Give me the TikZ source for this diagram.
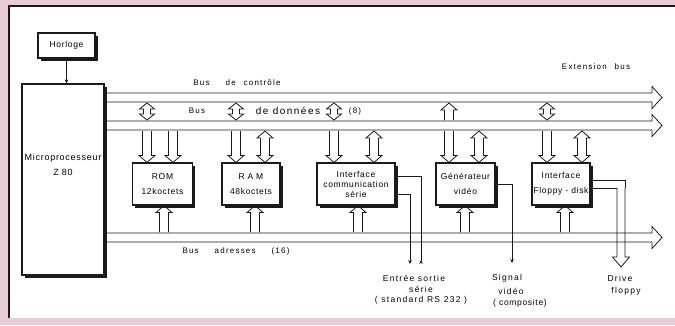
\documentclass[tikz,border=0pt]{standalone}
\usepackage{fontspec}
\setmainfont{Liberation Sans}[LetterSpace=8]
\newfontfamily\widefont{Liberation Sans}[LetterSpace=15]
\usetikzlibrary{arrows.meta,positioning,calc,shadows}
\definecolor{paper}{HTML}{E8CDD6}
\definecolor{ink}{HTML}{1A1A1A}
\tikzset{
  unit/.style={draw=ink, line width=1.1pt, fill=white, align=center, inner sep=1pt,
    drop shadow={shadow xshift=2.5pt, shadow yshift=-2.5pt, fill=ink, opacity=1}},
  block/.style={unit, minimum height=42pt, font=\fontsize{8.5}{10}\selectfont},
  sig/.style={draw=ink, line width=0.8pt},
  lbl/.style={font=\widefont\fontsize{8}{9}\selectfont, inner sep=1pt},
  outlbl/.style={font=\widefont\fontsize{8.5}{9}\selectfont, inner sep=1pt},
  % hollow arrow: half shaft width, half head width, head length
  hollow/.style n args={3}{sig, to path={
    ($(\tikztostart)!#1!90:(\tikztotarget)$)
    -- ($(\tikztotarget)!#3!(\tikztostart)!#1!-90:(\tikztostart)$)
    -- ($(\tikztotarget)!#3!(\tikztostart)!#2!-90:(\tikztostart)$)
    -- (\tikztotarget)
    -- ($(\tikztotarget)!#3!(\tikztostart)!#2!90:(\tikztostart)$)
    -- ($(\tikztotarget)!#3!(\tikztostart)!#1!90:(\tikztostart)$)
    -- ($(\tikztostart)!#1!-90:(\tikztotarget)$)}},
  % hollow arrow with a head at both ends
  hollowtwo/.style n args={3}{sig, to path={
    (\tikztostart)
    -- ($(\tikztostart)!#3!(\tikztotarget)!#2!90:(\tikztotarget)$)
    -- ($(\tikztostart)!#3!(\tikztotarget)!#1!90:(\tikztotarget)$)
    -- ($(\tikztotarget)!#3!(\tikztostart)!#1!-90:(\tikztostart)$)
    -- ($(\tikztotarget)!#3!(\tikztostart)!#2!-90:(\tikztostart)$)
    -- (\tikztotarget)
    -- ($(\tikztotarget)!#3!(\tikztostart)!#2!90:(\tikztostart)$)
    -- ($(\tikztotarget)!#3!(\tikztostart)!#1!90:(\tikztostart)$)
    -- ($(\tikztostart)!#3!(\tikztotarget)!#1!-90:(\tikztotarget)$)
    -- ($(\tikztostart)!#3!(\tikztotarget)!#2!-90:(\tikztotarget)$)
    -- cycle}},
  bus/.style={hollow={4.5pt}{11pt}{10pt}},
  feed/.style={hollow={4.5pt}{8pt}{7pt}},
  swap/.style={hollowtwo={4.5pt}{8pt}{7pt}},
  gap/.style={hollowtwo={3.5pt}{7.5pt}{6pt}}
}
\begin{document}
\begin{tikzpicture}[x=1pt, y=-1pt]
  \useasboundingbox (0,0) rectangle (675,325);
  \fill[paper] (0,0) rectangle (675,325);
  \fill[white] (9,6) rectangle (675,318);
  \draw[ink, line width=2.5pt] (9,318) -- (9,6) -- (675,6);

  \node[unit, minimum width=57pt, minimum height=25pt, font=\fontsize{8.5}{10}\selectfont] (horloge) at (66.5,45.5) {Horloge};
  \node[unit, minimum width=82pt, minimum height=191pt] (cpu) at (63,179.5) {};
  \node[font=\fontsize{9}{15}\selectfont, align=center] (cpulbl) at (63,164.5) {Microprocesseur\\Z 80};

  \node[block, minimum width=60pt] (rom) at (162.5,184) {ROM\\[5pt]12koctets};
  \node[block, minimum width=58pt] (ram) at (251,184) {R\,\,A\,\,M\\[5pt]48koctets};
  \node[block, minimum width=78pt] (comm) at (356,184) {Interface\\communication\\série};
  \node[block, minimum width=59pt] (video) at (465.5,184) {Générateur\\[5pt]vidéo};
  \node[block, minimum width=58pt] (floppy) at (561,184) {Interface\\[5pt]Floppy - disk};

  \draw[sig, -{Stealth[length=4pt,width=3.5pt]}] (horloge.south) -- (horloge.south |- cpu.north);

  % buses
  \coordinate (busW) at ($(cpu.east)+(2.5,0)$);
  \coordinate (ctrlE) at (662,97.5);
  \coordinate (dataE) at (662,125.5);
  \coordinate (addrE) at (662,237.5);
  \draw[bus] (busW |- ctrlE) to (ctrlE);
  \draw[bus] (busW |- dataE) to (dataE);
  \draw[bus] (busW |- addrE) to (addrE);
  \coordinate (ctrlS) at (0,103);
  \coordinate (dataN) at (0,120);
  \coordinate (dataS) at (0,131);
  \coordinate (addrN) at (0,232);

  \node[lbl] (ctrllbl) at (237,83) {Bus\qquad de\quad contrôle};
  \node[lbl] (datalbl) at (197,111) {Bus};
  \node[lbl, font=\widefont\fontsize{10}{11}\selectfont] (datalblb) at (288,111) {de données};
  \node[lbl] (datalblc) at (355,111) {(8)};
  \node[lbl] (extlbl) at (596,67) {Extension\quad bus};
  \node[lbl] (addrlbl) at (236,251) {Bus\qquad adresses\qquad (16)};

  % module links
  \foreach \m/\xl/\xb in {rom/147/164, ram/236/255, comm/334/358, video/449/465, floppy/547/565} {
    \coordinate (l) at (\xl,0);
    \coordinate (b) at (\xb,0);
    \draw[feed] (l |- dataS) to (l |- \m.north);
    \draw[feed] (b |- addrN) to (b |- \m.south);
  }
  \foreach \xl in {147,236,334,547} {
    \coordinate (l) at (\xl,0);
    \draw[gap] (l |- ctrlS) to (l |- dataN);
  }
  \coordinate (l) at (449,0);
  \draw[feed] (l |- dataN) to (l |- ctrlS);
  \coordinate (r) at (173,0);
  \draw[feed] (r |- dataS) to (r |- rom.north);
  \foreach \m/\xr in {ram/265, comm/374, video/479, floppy/582} {
    \coordinate (r) at (\xr,0);
    \draw[swap] (r |- dataS) to (r |- \m.north);
  }

  % serial, video and floppy outputs
  \coordinate (txd) at (410,264);
  \coordinate (rxd) at (421,264);
  \coordinate (vout) at (512,263);
  \coordinate (fd) at (621,188);
  \coordinate (drv) at (621,267);
  \draw[sig, -{Stealth[length=4pt,width=3.5pt]}] ([yshift=-10pt]comm.east) -| (txd);
  \draw[sig, -{Stealth[length=4pt,width=3.5pt,reversed]}] ([yshift=8pt]comm.east) -| (rxd);
  \draw[sig, -{Stealth[length=4pt,width=3.5pt]}] (video.east) -| (vout);
  \draw[sig] ([yshift=4pt]floppy.east) -| ([xshift=4pt]fd);
  \draw[sig] ([yshift=-4pt]floppy.east) -- ([xshift=-4pt]fd);
  \draw[hollow={4pt}{8.5pt}{10pt}] (fd) to (drv);

  \node[outlbl] (sera) at (414,278) {Entrée sortie};
  \node[outlbl] (serb) at (421,289) {série};
  \node[outlbl] (serc) at (421,300) {( standard RS 232 )};
  \node[outlbl] (vida) at (507,278) {Signal};
  \node[outlbl] (vidb) at (511,291) {vidéo};
  \node[outlbl, font=\fontsize{8.5}{9}\selectfont] (vidc) at (520,303) {( composite)};
  \node[outlbl] (drva) at (620,278) {Drive};
  \node[outlbl] (drvb) at (626,291) {floppy};
\end{tikzpicture}
\end{document}
